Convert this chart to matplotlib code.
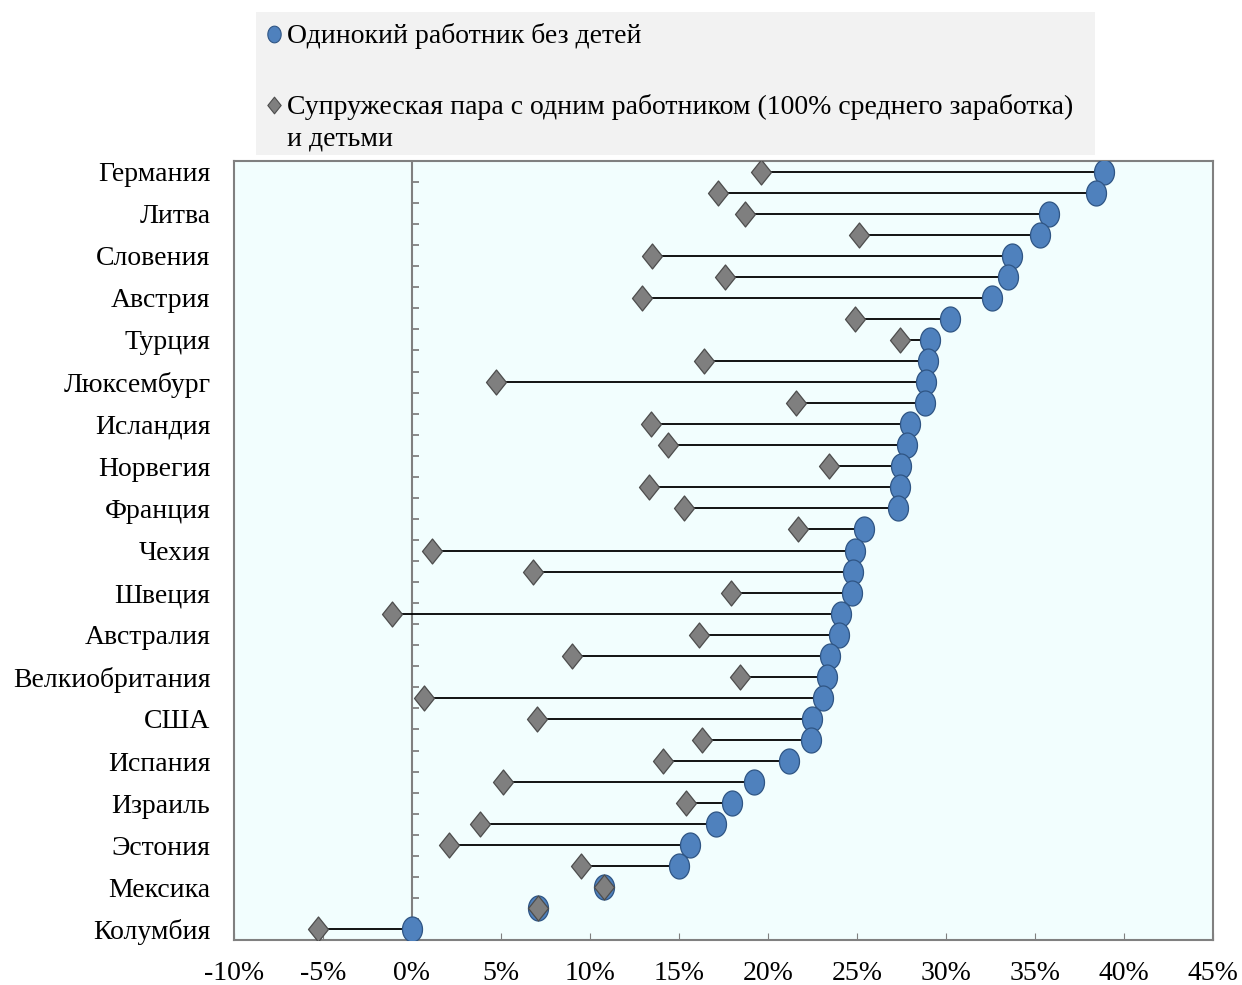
import numpy as np
import matplotlib.pyplot as plt
from matplotlib.path import Path
from matplotlib.lines import Line2D
from matplotlib.patches import Rectangle

# Подписи стран (подписана каждая вторая строка)
countries = ['Германия', '', 'Литва', '', 'Словения', '', 'Австрия', '',
             'Турция', '', 'Люксембург', '', 'Исландия', '', 'Норвегия', '',
             'Франция', '', 'Чехия', '', 'Швеция', '', 'Австралия', '',
             'Велкиобритания', '', 'США', '', 'Испания', '', 'Израиль', '',
             'Эстония', '', 'Мексика', '', 'Колумбия']

# Одинокий работник без детей, %
single = [38.9, 38.4, 35.8, 35.3, 33.7, 33.5, 32.6, 30.2, 29.1, 29.0,
          28.9, 28.8, 28.0, 27.8, 27.5, 27.4, 27.3, 25.4, 24.9, 24.8,
          24.7, 24.1, 24.0, 23.5, 23.3, 23.1, 22.5, 22.4, 21.2, 19.2,
          18.0, 17.1, 15.6, 15.0, 10.8, 7.1, 0.0]

# Супружеская пара с одним работником и детьми, %
couple = [19.6, 17.2, 18.7, 25.1, 13.5, 17.6, 12.9, 24.9, 27.4, 16.4,
          4.7, 21.6, 13.4, 14.4, 23.4, 13.3, 15.3, 21.7, 1.1, 6.8,
          17.9, -1.1, 16.1, 9.0, 18.4, 0.7, 7.0, 16.3, 14.1, 5.1,
          15.4, 3.8, 2.1, 9.5, 10.8, 7.1, -5.3]

xticks = [-10, -5, 0, 5, 10, 15, 20, 25, 30, 35, 40, 45]

# маркеры чуть вытянуты по вертикали, как в оригинале
t = np.linspace(0, 2 * np.pi, 60)
ellipse = Path(np.column_stack([0.8 * np.cos(t), np.sin(t)]), closed=True)
diamond = Path([(0, 1), (0.8, 0), (0, -1), (-0.8, 0), (0, 1)], closed=True)

plt.rcParams['font.family'] = ['Liberation Serif', 'DejaVu Serif']

BLUE = '#4f81bd'
BLUE_EDGE = '#2f5584'
GRAY = '#7f7f7f'
GRAY_EDGE = '#4d4d4d'
FS = 20

fig = plt.figure(figsize=(12.42, 9.85), dpi=100)
ax = fig.add_axes([234 / 1242, 1 - 940 / 985, (1213 - 234) / 1242, (940 - 161) / 985])
ax.set_facecolor('#f2fefe')

y = np.arange(len(countries))

ax.hlines(y, couple, single, color='black', lw=1.3, zorder=2)
ax.plot(single, y, linestyle='none', marker=ellipse, markersize=18,
        markerfacecolor=BLUE, markeredgecolor=BLUE_EDGE, markeredgewidth=0.9, zorder=3)
ax.plot(couple, y, linestyle='none', marker=diamond, markersize=18,
        markerfacecolor=GRAY, markeredgecolor=GRAY_EDGE, markeredgewidth=0.9, zorder=4)

# вертикальная ось категорий на нуле с делениями между строками
ax.axvline(0, color='#808080', lw=1.5, zorder=1)
ax.hlines(np.arange(len(countries) - 1) + 0.5, 0, 0.4, color='#808080', lw=1.3, zorder=1)

ax.set_xlim(-10, 45)
ax.set_ylim(len(countries) - 0.5, -0.5)
ax.set_xticks(xticks)
ax.set_xticklabels([f'{v}%' for v in xticks], fontsize=FS)
ax.set_yticks(y[::2])
ax.set_yticklabels(countries[::2], fontsize=FS)
ax.tick_params(axis='y', length=0, pad=17)
ax.tick_params(axis='x', direction='in', length=5, color='#808080', pad=15)
for s in ax.spines.values():
    s.set_color('#808080')
    s.set_linewidth(1.5)

# легенда
x0, y0 = 256 / 1242, 1 - 155 / 985
fig.add_artist(Rectangle((x0, y0), (1095 - 256) / 1242, (155 - 12) / 985,
                         transform=fig.transFigure, facecolor='#f2f2f2', edgecolor='none'))
fig.add_artist(Line2D([274 / 1242], [1 - 34 / 985], transform=fig.transFigure,
                      marker=ellipse, markersize=12, linestyle='none',
                      markerfacecolor=BLUE, markeredgecolor=BLUE_EDGE, markeredgewidth=0.8))
fig.add_artist(Line2D([274 / 1242], [1 - 105 / 985], transform=fig.transFigure,
                      marker=diamond, markersize=12, linestyle='none',
                      markerfacecolor=GRAY, markeredgecolor=GRAY_EDGE, markeredgewidth=0.8))
fig.text(287 / 1242, 1 - 36 / 985, 'Одинокий работник без детей',
         fontsize=FS, va='center', ha='left')
fig.text(287 / 1242, 1 - 107 / 985,
         'Супружеская пара с одним работником (100% среднего заработка)',
         fontsize=FS, va='center', ha='left')
fig.text(287 / 1242, 1 - 139 / 985, 'и детьми', fontsize=FS, va='center', ha='left')

fig.savefig('out.png', dpi=100)
